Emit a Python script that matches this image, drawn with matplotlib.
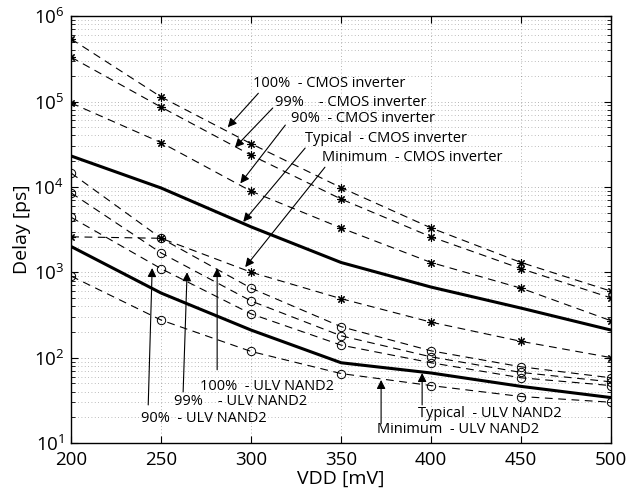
import numpy as np
import matplotlib
matplotlib.use("Agg")
import matplotlib.pyplot as plt
from matplotlib.ticker import LogLocator, FixedLocator, NullFormatter

plt.rcParams['font.family'] = ['Open Sans', 'DejaVu Sans']
plt.rcParams['mathtext.default'] = 'regular'

# supply voltage sweep
vdd = [200, 250, 300, 350, 400, 450, 500]

# CMOS inverter delays [ps] (stars)
cmos_100 = [5.4e5, 1.13e5, 3.2e4, 9.8e3, 3.3e3, 1.3e3, 600]
cmos_99 = [3.3e5, 8.6e4, 2.35e4, 7.2e3, 2.6e3, 1.1e3, 500]
cmos_90 = [9.6e4, 3.3e4, 8.9e3, 3.3e3, 1.3e3, 650, 270]
cmos_typ = [2.3e4, 9.7e3, 3.4e3, 1.3e3, 670, 380, 210]
cmos_min = [2.6e3, 2.5e3, 1.0e3, 490, 260, 155, 100]

# ULV NAND2 delays [ps] (circles)
ulv_100 = [1.45e4, 2.5e3, 650, 230, 120, 78, 58]
ulv_99 = [8.5e3, 1680, 460, 180, 102, 67, 52]
ulv_90 = [4.4e3, 1100, 325, 140, 87, 58, 47]
ulv_typ = [2.0e3, 570, 210, 87, 66, 46, 34]
ulv_min = [900, 275, 118, 65, 47, 35, 30]

# annotation labels: (text, text pos, arrow tail, arrow head)
notes = [
    ("100%  - CMOS inverter", (301, 1.64e5), (304, 1.25e5), (287, 5.0e4)),
    ("99%    - CMOS inverter", (313, 9.8e4), (312, 8.4e4), (291, 2.9e4)),
    ("90%  - CMOS inverter", (322, 6.4e4), (319, 5.3e4), (294, 1.1e4)),
    ("Typical  - CMOS inverter", (330, 3.7e4), (330, 2.85e4), (295.6, 3.9e3)),
    ("Minimum  - CMOS inverter", (339.4, 2.2e4), (341, 1.7e4), (296.7, 1.15e3)),
    ("100%  - ULV NAND2", (271.7, 46.4), (281.1, 72), (281.1, 1.12e3)),
    ("99%    - ULV NAND2", (257.2, 31), (262.2, 39.6), (264.4, 1.0e3)),
    ("90%  - ULV NAND2", (238.9, 19.6), (242.8, 27.9), (245, 1.12e3)),
    ("Typical  - ULV NAND2", (392.8, 22.4), (395, 27.9), (395, 66)),
    ("Minimum  - ULV NAND2", (370, 14.2), (372.2, 16.7), (372.2, 54.7)),
]

fig = plt.figure(figsize=(6.3, 4.9), dpi=100)
ax = fig.add_axes([0.113, 0.096, 0.857, 0.871])

dash = dict(color='k', lw=0.8, dashes=(7, 5))
for s in [cmos_100, cmos_99, cmos_90, cmos_min]:
    ax.plot(vdd, s, marker=(8, 2, 0), ms=6, mew=0.8, **dash)
for s in [ulv_100, ulv_99, ulv_90, ulv_min]:
    ax.plot(vdd, s, marker='o', ms=6, mfc='none', mew=0.7, **dash)
ax.plot(vdd, cmos_typ, color='k', lw=2.2)
ax.plot(vdd, ulv_typ, color='k', lw=2.2)

ax.set_yscale('log')
ax.set_xlim(200, 500)
ax.set_ylim(10, 1e6)
ax.xaxis.set_major_locator(FixedLocator(vdd))
ax.yaxis.set_major_locator(LogLocator(base=10, numticks=10))
ax.yaxis.set_minor_locator(LogLocator(base=10, subs=np.arange(2, 10), numticks=20))
ax.yaxis.set_minor_formatter(NullFormatter())

ax.grid(True, which='major', color='k', alpha=0.4, lw=0.6, ls=(0, (1, 3)))
ax.grid(True, which='minor', axis='y', color='k', alpha=0.35, lw=0.6, ls=(0, (1, 3)))
ax.tick_params(which='both', direction='in', top=True, right=True)
ax.tick_params(which='major', length=5, labelsize=13.5)
ax.tick_params(axis='x', pad=6)
ax.tick_params(axis='y', pad=5)
ax.tick_params(which='minor', length=3)
for sp in ax.spines.values():
    sp.set_linewidth(1.0)

ax.set_xlabel("VDD [mV]", fontsize=14, labelpad=0)
ax.set_ylabel("Delay [ps]", fontsize=14, labelpad=2)

for txt, tpos, tail, head in notes:
    ax.text(tpos[0], tpos[1], txt, fontsize=10.5, ha='left', va='center')
    ax.annotate('', xy=head, xytext=tail,
                arrowprops=dict(arrowstyle='-|>', color='k', lw=0.8,
                                mutation_scale=13, shrinkA=0, shrinkB=0))

fig.savefig("out.png", dpi=100)
